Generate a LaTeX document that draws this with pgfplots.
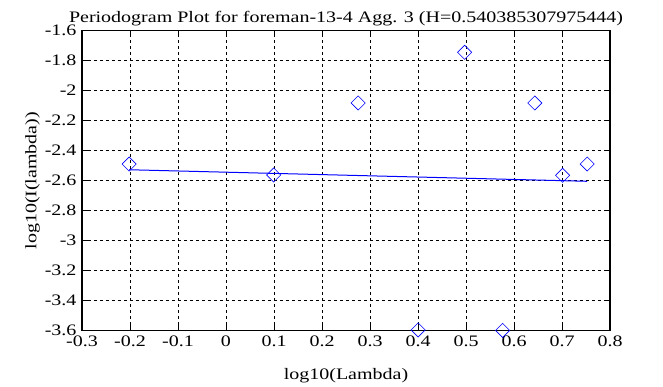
\documentclass[border=0pt]{standalone}
\usepackage{pgfplots}
\pgfplotsset{compat=1.18}
\usepackage{fontspec}
\setmainfont{Liberation Serif}[FakeStretch=1.25]
\begin{document}
\begin{tikzpicture}
\begin{axis}[name=ax,
  scale only axis, width=528pt, height=300pt,
  xmin=-0.3, xmax=0.8, ymin=-3.6, ymax=-1.6,
  xtick={-0.3,-0.2,...,0.8}, ytick={-3.6,-3.4,...,-1.6},
  xticklabels={-0.3,-0.2,-0.1,0,0.1,0.2,0.3,0.4,0.5,0.6,0.7,0.8},
  yticklabels={-3.6,-3.4,-3.2,-3,-2.8,-2.6,-2.4,-2.2,-2,-1.8,-1.6},
  tick align=inside, tick pos=both, major tick length=6pt,
  tick style={black, line width=0.8pt},
  axis line style={black, line width=1.4pt},
  grid=major, major grid style={black, dashed, line width=0.6pt},
  ticklabel style={font=\fontsize{16}{18}\selectfont},
  xticklabel style={yshift=-2pt},
  yticklabel style={xshift=-2pt},
  /pgf/number format/assume math mode=true,
  xlabel={log10(Lambda)}, ylabel={log10(I(lambda))},
  xlabel style={yshift=-14pt},
  ylabel style={yshift=-2pt},
  label style={font=\fontsize{16}{18}\selectfont},
  title={Periodogram Plot for foreman-13-4 Agg. 3 (H=0.540385307975444)},
  title style={font=\fontsize{16}{18}\selectfont, yshift=-5pt},
  clip=false,
]
\addplot[blue, line width=1pt] coordinates {(-0.2018,-2.527) (0.7525,-2.604)};
\addplot[blue, only marks, mark=square, mark size=5pt, mark options={rotate=45, line width=0.6pt}] coordinates {
(-0.2018,-2.489) (0.0993,-2.562) (0.2753,-2.082) (0.4002,-3.595) (0.4971,-1.744)
(0.5763,-3.598) (0.6433,-2.082) (0.7013,-2.564) (0.7525,-2.489)
};
\end{axis}
\path ([shift={(-82pt,-56.3pt)}]ax.south west) rectangle ([shift={(53pt,30.7pt)}]ax.north east);
\end{tikzpicture}
\end{document}
